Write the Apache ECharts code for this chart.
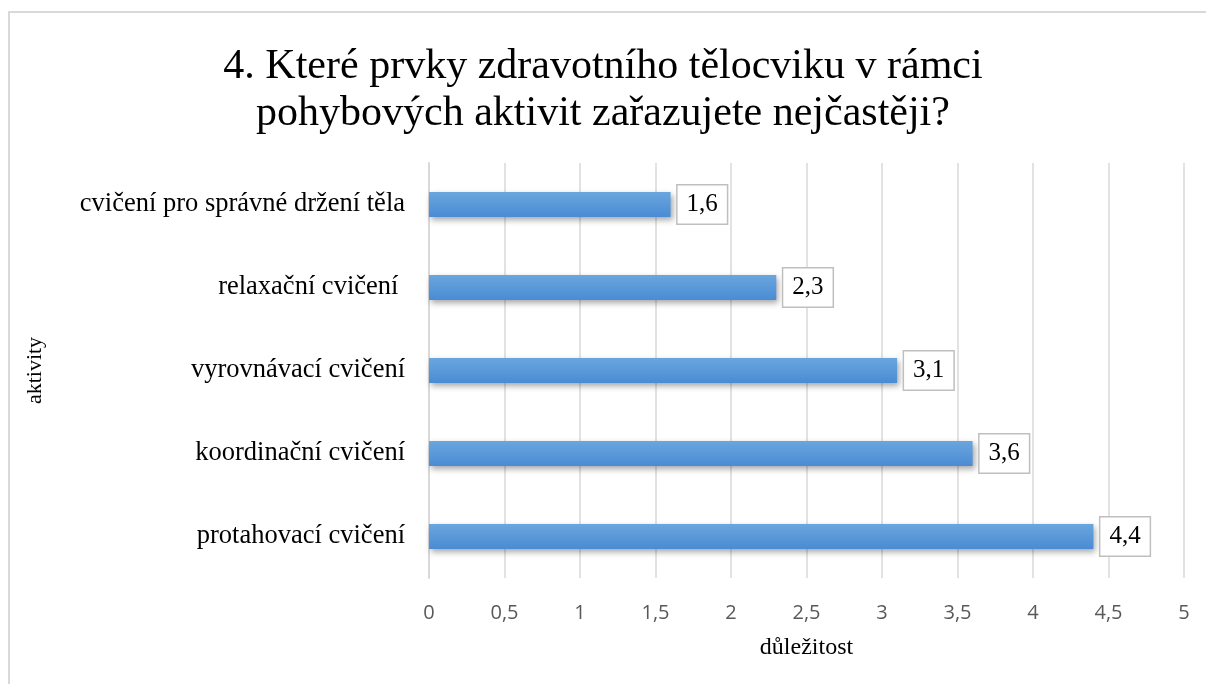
<!DOCTYPE html>
<html>
<head>
<meta charset="utf-8">
<script src="https://cdn.jsdelivr.net/npm/echarts@6/dist/echarts.min.js"></script>
<style>
    html, body { margin: 0; padding: 0; background: #fff; }
    #chart-frame {
        position: absolute; left: 8px; top: 11px;
        width: 1220px; height: 700px;
        border: 2px solid #d9d9d9; box-sizing: border-box;
    }
    #chart { position: absolute; left: 0; top: 0; width: 1206px; height: 684px; }
</style>
</head>
<body>
<div id="chart-frame"></div>
<div id="chart"></div>
<script>
// data (bottom to top)
const categories = [
    'protahovací cvičení',
    'koordinační cvičení',
    'vyrovnávací cvičení',
    'relaxační cvičení ',
    'cvičení pro správné držení těla'
];
const values = [4.4, 3.6, 3.1, 2.3, 1.6];
const xTicks = [0, 0.5, 1, 1.5, 2, 2.5, 3, 3.5, 4, 4.5, 5];

const titleText = '4. Které prvky zdravotního tělocviku v rámci\npohybových aktivit zařazujete nejčastěji?';

function czNum(v) {
    return String(v).replace('.', ',');
}

let myChart = echarts.init(document.getElementById('chart'));

let option = {
    animation: false,
    title: {
        text: titleText,
        left: 'center',
        top: 38,
        textStyle: {
            fontFamily: 'Liberation Serif',
            fontSize: 42,
            fontWeight: 'normal',
            color: '#000',
            lineHeight: 47
        }
    },
    grid: {
        left: 429,
        right: 22,
        top: 163,
        bottom: 106
    },
    xAxis: {
        type: 'value',
        min: xTicks[0],
        max: xTicks[xTicks.length - 1],
        interval: 0.5,
        name: 'důležitost',
        nameLocation: 'middle',
        nameGap: 58,
        nameTextStyle: { fontFamily: 'Liberation Serif', fontSize: 24, color: '#000' },
        axisLine: { show: false },
        axisTick: { show: false },
        axisLabel: {
            margin: 25,
            fontFamily: 'Open Sans',
            fontSize: 20,
            color: '#595959',
            formatter: czNum
        },
        splitLine: { lineStyle: { color: '#d9d9d9', width: 1.5 } }
    },
    yAxis: {
        type: 'category',
        data: categories,
        name: 'aktivity',
        nameLocation: 'middle',
        nameGap: 383,
        nameTextStyle: { fontFamily: 'Liberation Serif', fontSize: 22, color: '#000' },
        axisLine: { lineStyle: { color: '#d9d9d9', width: 2 } },
        axisTick: { length: 8, lineStyle: { color: '#d9d9d9', width: 2 } },
        axisLabel: {
            margin: 24,
            fontFamily: 'Liberation Serif',
            fontSize: 26.5,
            color: '#000'
        }
    },
    series: [
        {
            type: 'bar',
            data: values,
            barWidth: 25,
            itemStyle: {
                color: new echarts.graphic.LinearGradient(0, 0, 0, 1, [
                    { offset: 0, color: '#6aa6de' },
                    { offset: 1, color: '#4a8bd3' }
                ]),
                shadowColor: 'rgba(0,0,0,0.35)',
                shadowBlur: 6,
                shadowOffsetX: 2,
                shadowOffsetY: 3
            },
            label: {
                show: true,
                position: 'right',
                distance: 7,
                formatter: p => czNum(p.value),
                fontFamily: 'Liberation Serif',
                fontSize: 25,
                color: '#000',
                backgroundColor: '#fff',
                borderColor: '#bfbfbf',
                borderWidth: 1.5,
                padding: [7, 9, 6, 9]
            }
        }
    ]
};

myChart.setOption(option);
</script>
</body>
</html>
